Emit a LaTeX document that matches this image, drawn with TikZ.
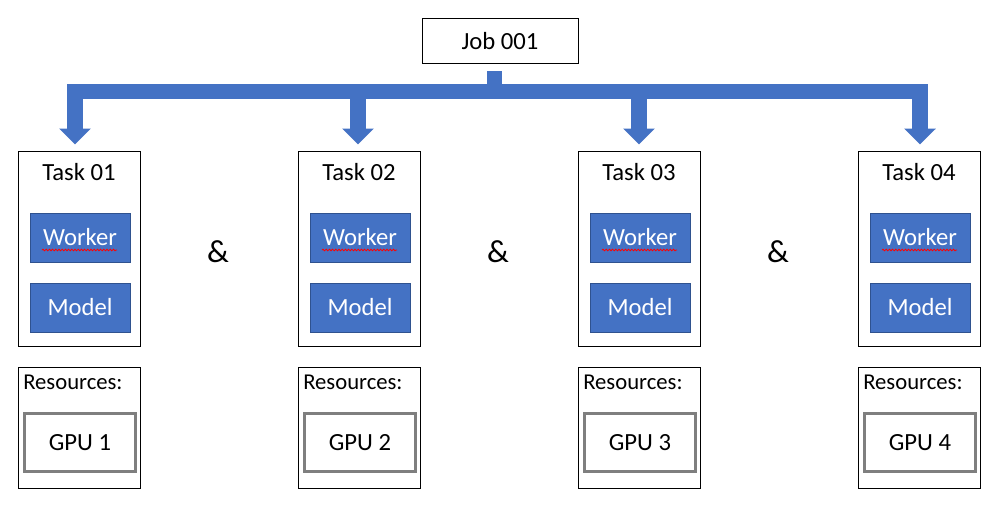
\documentclass[tikz,border=0pt]{standalone}
\usepackage{fontspec}
\setmainfont{Carlito}
\usetikzlibrary{calc,arrows.meta,decorations.pathmorphing}
\definecolor{accentblue}{HTML}{4472C4}
\definecolor{accentdark}{HTML}{2F528F}
\definecolor{gpugray}{HTML}{7F7F7F}
\tikzset{
	box/.style={draw=black, line width=0.75pt, inner sep=0pt},
	taskbox/.style={box, minimum width=91.5pt, minimum height=146.25pt},
	resbox/.style={box, minimum width=91.5pt, minimum height=90.75pt},
	jobbox/.style={box, minimum width=117pt, minimum height=34.25pt, font=\fontsize{18.5}{22}\selectfont},
	part/.style={draw=accentdark, line width=0.75pt, fill=accentblue, text=white, minimum width=75pt, minimum height=36.75pt, inner sep=0pt, font=\fontsize{18.5}{22}\selectfont},
	gpu/.style={draw=gpugray, line width=2.25pt, minimum width=83.25pt, minimum height=43.5pt, inner sep=0pt, font=\fontsize{18.5}{22}\selectfont},
	title/.style={inner sep=0pt, font=\fontsize{18.5}{22}\selectfont},
	reslabel/.style={inner sep=0pt, anchor=west, font=\fontsize{17}{20}\selectfont},
	amp/.style={inner sep=0pt, font=\fontsize{24}{28}\selectfont},
	flow/.style={draw=accentblue, line width=11.5pt, line join=miter, -{Triangle[width=23.25pt, length=12pt]}},
	squiggle/.style={red, line width=0.6pt, decorate, decoration={snake, amplitude=0.6pt, segment length=2.4pt}}
}
\begin{document}
\begin{tikzpicture}[x=0.75pt, y=-0.75pt]
			%%%%% START %%%%%
			\useasboundingbox (0,0) rectangle (1003,518);
			
			\node[jobbox] (job) at (500,41) {Job 001};
			\coordinate (stub) at ($(job.south)+(-5.5,7)$);
			\coordinate (bar) at ($(stub)+(0,20)$);
			
			\node[taskbox] (t1) at (79,248.5) {};
			\node[title] (t1name) at (79,172) {Task 01};
			\node[part] (w1) at (80,237.5) {Worker};
			\node[part] (m1) at (80,307.5) {Model};
			\node[resbox] (r1) at (79,427.5) {};
			\node[reslabel] (r1name) at (23,382) {Resources:};
			\node[gpu] (g1) at (80,442.5) {GPU 1};
			\draw[squiggle] ($(w1.center)+(-38,12.5)$) -- ++(75,0);
			
			\node[taskbox] (t2) at (359,248.5) {};
			\node[title] (t2name) at (359,172) {Task 02};
			\node[part] (w2) at (360,237.5) {Worker};
			\node[part] (m2) at (360,307.5) {Model};
			\node[resbox] (r2) at (359,427.5) {};
			\node[reslabel] (r2name) at (303,382) {Resources:};
			\node[gpu] (g2) at (360,442.5) {GPU 2};
			\draw[squiggle] ($(w2.center)+(-38,12.5)$) -- ++(75,0);
			
			\node[taskbox] (t3) at (639,248.5) {};
			\node[title] (t3name) at (639,172) {Task 03};
			\node[part] (w3) at (640,237.5) {Worker};
			\node[part] (m3) at (640,307.5) {Model};
			\node[resbox] (r3) at (639,427.5) {};
			\node[reslabel] (r3name) at (583,382) {Resources:};
			\node[gpu] (g3) at (640,442.5) {GPU 3};
			\draw[squiggle] ($(w3.center)+(-38,12.5)$) -- ++(75,0);
			
			\node[taskbox] (t4) at (919,248.5) {};
			\node[title] (t4name) at (919,172) {Task 04};
			\node[part] (w4) at (920,237.5) {Worker};
			\node[part] (m4) at (920,307.5) {Model};
			\node[resbox] (r4) at (919,427.5) {};
			\node[reslabel] (r4name) at (863,382) {Resources:};
			\node[gpu] (g4) at (920,442.5) {GPU 4};
			\draw[squiggle] ($(w4.center)+(-38,12.5)$) -- ++(75,0);
			
			\node[amp] (and1) at (218,252) {\&};
			\node[amp] (and2) at (498,252) {\&};
			\node[amp] (and3) at (778,252) {\&};
			
			\draw[flow] (stub) -- (bar) -| ($(t1.north)+(-4,-6)$);
			\draw[flow] (stub) -- (bar) -| ($(t2.north)+(-1,-6)$);
			\draw[flow] (stub) -- (bar) -| ($(t3.north)+(0,-6)$);
			\draw[flow] (stub) -- (bar) -| ($(t4.north)+(1,-6)$);
			
			%%%%% END %%%%%
\end{tikzpicture}
\end{document}
